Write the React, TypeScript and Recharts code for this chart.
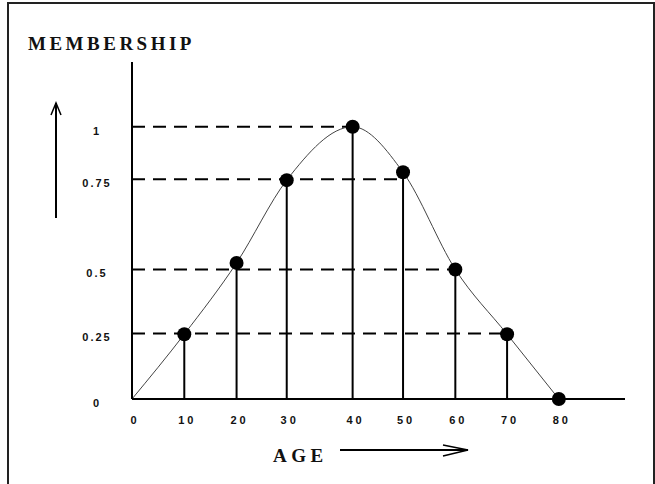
import React from "react";
import { ComposedChart, Line, XAxis, YAxis, ReferenceLine } from "recharts";

// Tick labels along the AGE axis and where each sits
const ageLabels = ["0", "10", "20", "30", "40", "50", "60", "70", "80"];
const agePositions = [0, 9.8, 19.6, 29.0, 41.35, 50.8, 60.6, 70.3, 80];
// Membership values of each plotted point
const membership = [0, 0.238, 0.5, 0.804, 1, 0.833, 0.476, 0.238, 0];
// Membership levels (dashed guides) and their labels
const levelLabels = ["0", "0.25", "0.5", "0.75", "1"];
const levelValues = [0, 0.241, 0.476, 0.807, 1];
// index of the right-most point reached by each dashed level
const levelPointIndex = [8, 7, 6, 5, 4];

const data = agePositions.map((a, i) => ({ age: a, m: membership[i] }));

const FONT = "'Liberation Serif', serif";
const TICK_FONT = "'Liberation Sans', sans-serif";

const XTick = (props: any) => {
  const { x, y, index } = props;
  return (
    <text
      x={x + 3}
      y={y}
      dy={25}
      textAnchor="middle"
      fontFamily={TICK_FONT}
      fontWeight="bold"
      fontSize={11}
      letterSpacing={3}
      fill="#111"
    >
      {ageLabels[index]}
    </text>
  );
};

const YTick = (props: any) => {
  const { x, y, index } = props;
  return (
    <text
      x={x - 35}
      y={y}
      dy={8}
      textAnchor="middle"
      fontFamily={TICK_FONT}
      fontWeight="bold"
      fontSize={11}
      letterSpacing={2}
      fill="#111"
    >
      {levelLabels[index]}
    </text>
  );
};

const renderDot = (props: any) => {
  const { cx, cy, index } = props;
  if (index === 0) return <g key={`d${index}`} />;
  return <circle key={`d${index}`} cx={cx} cy={cy} r={7} fill="#000" />;
};

export default function App() {
  return (
    <div style={{ position: "absolute", left: 0, top: 0, width: 655, height: 484, background: "#fff" }}>
      <ComposedChart
        width={655}
        height={484}
        data={data}
        margin={{ top: 62, right: 30, bottom: 55, left: 0 }}
      >
        <XAxis
          type="number"
          dataKey="age"
          domain={[0, 92.4]}
          ticks={agePositions}
          interval={0}
          tick={(p: any) => <XTick {...p} />}
          tickLine={false}
          tickSize={0}
          tickMargin={0}
          height={30}
          axisLine={{ stroke: "#000", strokeWidth: 2 }}
        />
        <YAxis
          type="number"
          domain={[0, 1.238]}
          ticks={levelValues}
          interval={0}
          tick={(p: any) => <YTick {...p} />}
          tickLine={false}
          tickSize={0}
          tickMargin={0}
          width={132}
          axisLine={{ stroke: "#000", strokeWidth: 2 }}
        />
        {levelValues.slice(1).map((lv, i) => (
          <ReferenceLine
            key={`lv${i}`}
            segment={[
              { x: 0, y: lv },
              { x: agePositions[levelPointIndex[i + 1]], y: lv },
            ]}
            stroke="#000"
            strokeWidth={2}
            strokeDasharray="13 8"
          />
        ))}
        {agePositions.slice(1, 8).map((a, i) => (
          <ReferenceLine
            key={`st${i}`}
            segment={[
              { x: a, y: 0 },
              { x: a, y: membership[i + 1] },
            ]}
            stroke="#000"
            strokeWidth={2}
          />
        ))}
        <Line
          dataKey="m"
          type="monotone"
          stroke="#444"
          strokeWidth={1}
          dot={renderDot}
          activeDot={false}
          isAnimationActive={false}
        />
      </ComposedChart>
      <svg
        width={655}
        height={484}
        style={{ position: "absolute", left: 0, top: 0, pointerEvents: "none" }}
      >
        <rect x={8} y={3} width={646} height={520} fill="none" stroke="#222" strokeWidth={2} />
        <text x={28} y={50} fontFamily={FONT} fontWeight="bold" fontSize={19} letterSpacing={3.5} fill="#111">
          MEMBERSHIP
        </text>
        <text x={273} y={462} fontFamily={FONT} fontWeight="bold" fontSize={19} letterSpacing={4.5} fill="#111">
          AGE
        </text>
        <line x1={340} y1={450} x2={468} y2={450} stroke="#000" strokeWidth={2} />
        <polyline points="443,445 468,450 443,456" fill="none" stroke="#000" strokeWidth={1.5} />
        <line x1={56} y1={103} x2={56} y2={218} stroke="#000" strokeWidth={2} />
        <polyline points="51,115 56,103 61,115" fill="none" stroke="#000" strokeWidth={1.5} />
      </svg>
    </div>
  );
}
